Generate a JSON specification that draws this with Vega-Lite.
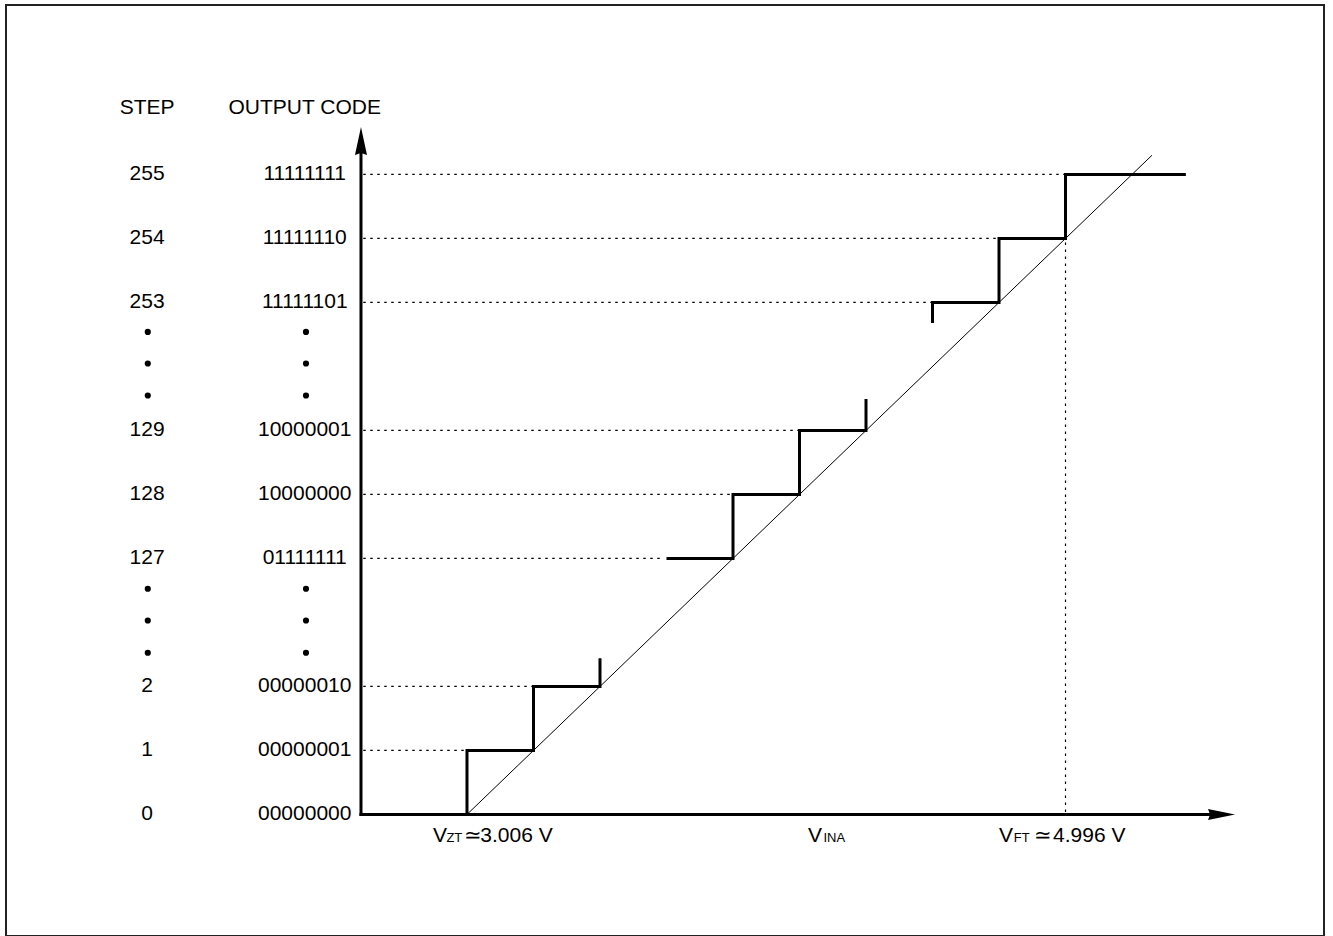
{
  "$schema": "https://vega.github.io/schema/vega-lite/v6.json",
  "width": 1318,
  "height": 931,
  "autosize": "none",
  "padding": {"left": 6, "top": 5, "right": 9, "bottom": 0},
  "config": {
    "view": {"stroke": "#222", "strokeWidth": 2},
    "text": {"font": "Liberation Sans, Arial, Helvetica, sans-serif", "color": "black"}
  },
  "datasets": {
    "stairs": [
      {"path": "A", "i": 0, "u": 0, "r": 0},
      {"path": "A", "i": 1, "u": 0, "r": 1},
      {"path": "A", "i": 2, "u": 1, "r": 1},
      {"path": "A", "i": 3, "u": 1, "r": 2},
      {"path": "A", "i": 4, "u": 2, "r": 2},
      {"path": "A", "i": 5, "u": 2, "r": 2.44},
      {"path": "B", "i": 0, "u": 3, "r": 4},
      {"path": "B", "i": 1, "u": 4, "r": 4},
      {"path": "B", "i": 2, "u": 4, "r": 5},
      {"path": "B", "i": 3, "u": 5, "r": 5},
      {"path": "B", "i": 4, "u": 5, "r": 6},
      {"path": "B", "i": 5, "u": 6, "r": 6},
      {"path": "B", "i": 6, "u": 6, "r": 6.49},
      {"path": "C", "i": 0, "u": 7, "r": 7.68},
      {"path": "C", "i": 1, "u": 7, "r": 8},
      {"path": "C", "i": 2, "u": 8, "r": 8},
      {"path": "C", "i": 3, "u": 8, "r": 9},
      {"path": "C", "i": 4, "u": 9, "r": 9},
      {"path": "C", "i": 5, "u": 9, "r": 10},
      {"path": "C", "i": 6, "u": 10.81, "r": 10}
    ],
    "slope": [{"u": 0, "r": 0, "u2": 10.3, "r2": 10.3}],
    "guides": [
      {"u": -1.56, "r": 1, "u2": 0, "r2": 1},
      {"u": -1.56, "r": 2, "u2": 1, "r2": 2},
      {"u": -1.56, "r": 4, "u2": 2.9, "r2": 4},
      {"u": -1.56, "r": 5, "u2": 4, "r2": 5},
      {"u": -1.56, "r": 6, "u2": 5, "r2": 6},
      {"u": -1.56, "r": 8, "u2": 7, "r2": 8},
      {"u": -1.56, "r": 9, "u2": 8, "r2": 9},
      {"u": -1.56, "r": 10, "u2": 9, "r2": 10},
      {"u": 9, "r": 0.04, "u2": 9, "r2": 9}
    ],
    "axes": [
      {"u": -1.594, "r": 0, "u2": -1.594, "r2": 10.4},
      {"u": -1.594, "r": 0, "u2": 11.2, "r2": 0}
    ],
    "arrows": [
      {"dir": "up", "u": -1.594, "r": 10.523},
      {"dir": "right", "u": 11.346, "r": 0}
    ],
    "columns": [
      {"u": -4.81, "r": 11.04, "text": "STEP"},
      {"u": -4.81, "r": 10, "text": "255"},
      {"u": -4.81, "r": 9, "text": "254"},
      {"u": -4.81, "r": 8, "text": "253"},
      {"u": -4.81, "r": 6, "text": "129"},
      {"u": -4.81, "r": 5, "text": "128"},
      {"u": -4.81, "r": 4, "text": "127"},
      {"u": -4.81, "r": 2, "text": "2"},
      {"u": -4.81, "r": 1, "text": "1"},
      {"u": -4.81, "r": 0, "text": "0"},
      {"u": -2.44, "r": 11.04, "text": "OUTPUT CODE"},
      {"u": -2.44, "r": 10, "text": "11111111"},
      {"u": -2.44, "r": 9, "text": "11111110"},
      {"u": -2.44, "r": 8, "text": "11111101"},
      {"u": -2.44, "r": 6, "text": "10000001"},
      {"u": -2.44, "r": 5, "text": "10000000"},
      {"u": -2.44, "r": 4, "text": "01111111"},
      {"u": -2.44, "r": 2, "text": "00000010"},
      {"u": -2.44, "r": 1, "text": "00000001"},
      {"u": -2.44, "r": 0, "text": "00000000"}
    ],
    "dots": [
      {"u": -4.8, "r": 2.527}, {"u": -4.8, "r": 3.031}, {"u": -4.8, "r": 3.527},
      {"u": -4.8, "r": 6.547}, {"u": -4.8, "r": 7.047}, {"u": -4.8, "r": 7.54},
      {"u": -2.421, "r": 2.527}, {"u": -2.421, "r": 3.031}, {"u": -2.421, "r": 3.527},
      {"u": -2.421, "r": 6.547}, {"u": -2.421, "r": 7.047}, {"u": -2.421, "r": 7.54}
    ],
    "labels": [
      {"u": -0.511, "r": -0.43, "text": "V", "part": "main"},
      {"u": -0.31, "r": -0.43, "text": "ZT", "part": "sub"},
      {"u": -0.045, "r": -0.43, "text": "≃", "part": "main"},
      {"u": 0.2, "r": -0.43, "text": "3.006 V", "part": "main"},
      {"u": 5.128, "r": -0.43, "text": "V", "part": "main"},
      {"u": 5.36, "r": -0.43, "text": "INA", "part": "sub"},
      {"u": 8.0, "r": -0.43, "text": "V", "part": "main"},
      {"u": 8.221, "r": -0.43, "text": "FT", "part": "sub"},
      {"u": 8.52, "r": -0.43, "text": "≃", "part": "main"},
      {"u": 8.812, "r": -0.43, "text": "4.996 V", "part": "main"}
    ]
  },
  "encoding": {
    "x": {"field": "u", "type": "quantitative", "scale": {"domain": [-6.932, 12.887], "nice": false, "zero": false}, "axis": null},
    "y": {"field": "r", "type": "quantitative", "scale": {"domain": [-1.899, 12.648], "nice": false, "zero": false}, "axis": null}
  },
  "layer": [
    {
      "data": {"name": "guides"},
      "mark": {"type": "rule", "color": "black", "strokeWidth": 1.2, "strokeDash": [2.5, 4.5]},
      "encoding": {"x2": {"field": "u2"}, "y2": {"field": "r2"}}
    },
    {
      "data": {"name": "slope"},
      "mark": {"type": "rule", "color": "black", "strokeWidth": 1},
      "encoding": {"x2": {"field": "u2"}, "y2": {"field": "r2"}}
    },
    {
      "data": {"name": "axes"},
      "mark": {"type": "rule", "color": "black", "strokeWidth": 3, "strokeCap": "square"},
      "encoding": {"x2": {"field": "u2"}, "y2": {"field": "r2"}}
    },
    {
      "data": {"name": "stairs"},
      "mark": {"type": "line", "color": "black", "strokeWidth": 3, "strokeJoin": "miter", "strokeCap": "butt"},
      "encoding": {"detail": {"field": "path"}, "order": {"field": "i"}}
    },
    {
      "data": {"name": "arrows"},
      "transform": [{"filter": "datum.dir == 'up'"}],
      "mark": {"type": "point", "shape": "M0,-1L0.43,1L0,0.85L-0.43,1Z", "filled": true, "color": "black", "opacity": 1, "size": 784}
    },
    {
      "data": {"name": "arrows"},
      "transform": [{"filter": "datum.dir == 'right'"}],
      "mark": {"type": "point", "shape": "M1,0L-1,-0.41L-0.85,0L-1,0.41Z", "filled": true, "color": "black", "opacity": 1, "size": 729}
    },
    {
      "data": {"name": "columns"},
      "mark": {"type": "text", "fontSize": 21, "align": "center", "baseline": "middle"},
      "encoding": {"text": {"field": "text"}}
    },
    {
      "data": {"name": "dots"},
      "mark": {"type": "point", "filled": true, "color": "black", "opacity": 1, "size": 38}
    },
    {
      "data": {"name": "labels"},
      "transform": [{"filter": "datum.part == 'main'"}],
      "mark": {"type": "text", "fontSize": 21, "align": "left", "baseline": "alphabetic"},
      "encoding": {"text": {"field": "text"}}
    },
    {
      "data": {"name": "labels"},
      "transform": [{"filter": "datum.part == 'sub'"}],
      "mark": {"type": "text", "fontSize": 13, "align": "left", "baseline": "alphabetic"},
      "encoding": {"text": {"field": "text"}}
    }
  ]
}
